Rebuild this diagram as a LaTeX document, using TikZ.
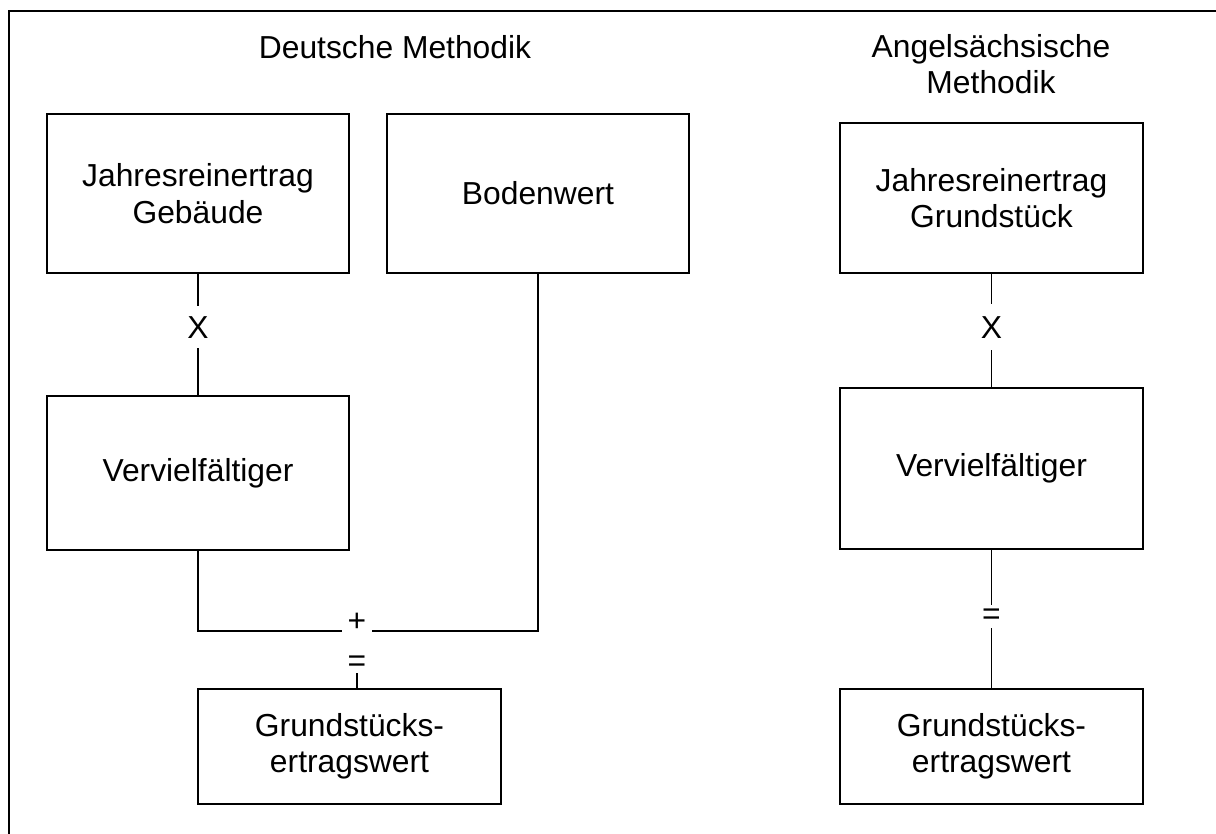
\documentclass[tikz,border=0pt]{standalone}
\usepackage{fontspec}
\setmainfont{Liberation Sans}
\begin{document}
\begin{tikzpicture}[x=1pt,y=-1pt,
  box/.style={draw,line width=1.8pt,inner sep=0pt,outer sep=0pt,align=center,
    font=\fontsize{31.8}{36.5}\selectfont},
  lbl/.style={inner sep=0pt,outer sep=0pt,font=\fontsize{31.8}{36.5}\selectfont},
  conn/.style={line width=1.6pt},
  ttl/.style={align=center,inner sep=0pt,font=\fontsize{31.8}{35.5}\selectfont}]
\useasboundingbox (0,0) rectangle (1216,834);
\clip (0,0) rectangle (1216,834);
\fill[white] (0,0) rectangle (1216,834);
\draw[line width=2.2pt] (9,11) rectangle (1300,900);
% titles
\node[ttl] (t1) at (395,47) {Deutsche Methodik};
\node[ttl] (t2) at (991,64) {Angelsächsische\\Methodik};
% left column
\node[box,minimum width=302pt,minimum height=159pt] (jg) at (198,193.5) {Jahresreinertrag\\Gebäude};
\node[box,minimum width=302pt,minimum height=159pt] (bw) at (538,193.5) {Bodenwert};
\node[box,minimum width=302pt,minimum height=154pt] (vl) at (198,473) {Vervielfältiger};
\node[box,minimum width=303pt,minimum height=115pt] (gl) at (349.5,746.5) {Grundstücks-\\ertragswert};
% right column
\node[box,minimum width=303pt,minimum height=150pt] (jr) at (991.5,198) {Jahresreinertrag\\Grundstück};
\node[box,minimum width=303pt,minimum height=161pt] (vr) at (991.5,468.5) {Vervielfältiger};
\node[box,minimum width=303pt,minimum height=115pt] (gr) at (991.5,746.5) {Grundstücks-\\ertragswert};
% operator labels
\node[lbl,minimum height=42pt] (xl) at (198,327.5) {X};
\node[lbl,minimum height=46pt] (xr) at (991.5,327.5) {X};
\node[lbl,minimum width=30pt,minimum height=18pt] (plus) at (357,631) {};
\node[lbl] (plussign) at (357,622) {+};
\node[lbl,minimum height=18pt] (eql) at (357,664) {=};
\node[lbl,minimum height=23pt] (eqr) at (991.5,616.5) {=};
% connectors
\draw[conn] (jg.south) -- (xl.north);
\draw[conn] (xl.south) -- (vl.north);
\draw[conn] (vl.south) |- (plus.west);
\draw[conn] (bw.south) |- (plus.east);
\draw[conn] (eql.south) -- (eql.south |- gl.north);
\draw[conn] (jr.south) -- (xr.north);
\draw[conn] (xr.south) -- (vr.north);
\draw[conn] (vr.south) -- (eqr.north);
\draw[conn] (eqr.south) -- (gr.north);
\end{tikzpicture}
\end{document}
